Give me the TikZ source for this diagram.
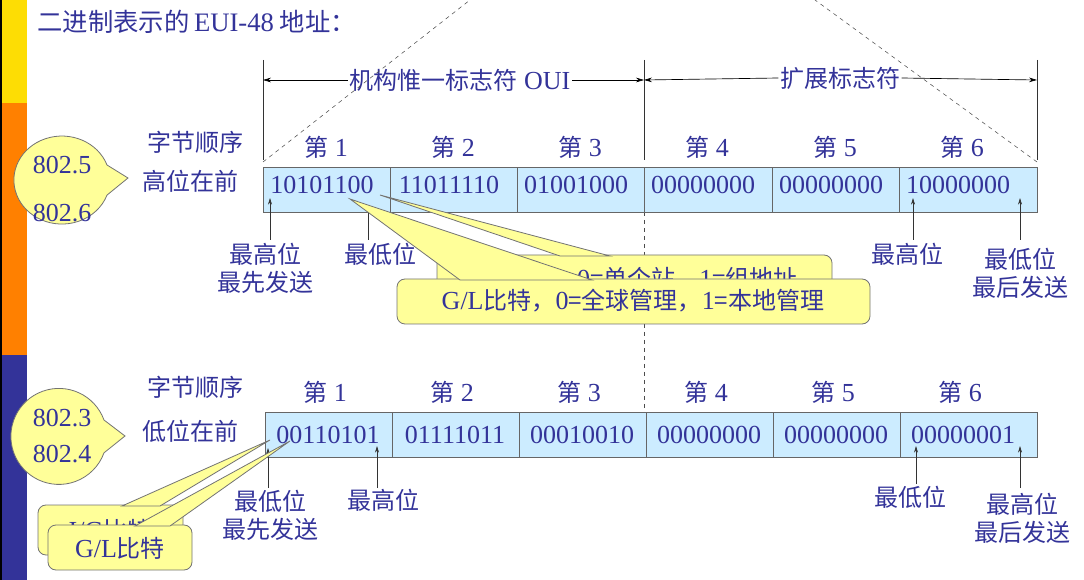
\documentclass[tikz,border=0pt]{standalone}
\usepackage{fontspec}
\setmainfont{Liberation Serif}
\newfontfamily\cjk{Noto Sans CJK SC}
\usetikzlibrary{arrows.meta}
\definecolor{tx}{RGB}{51,51,153}
\definecolor{cell}{RGB}{204,236,255}
\definecolor{cy}{RGB}{255,255,153}
\begin{document}
\begin{tikzpicture}[x=0.75pt,y=-0.75pt,
  every node/.style={text=tx,font=\fontsize{19.5}{22}\selectfont,inner sep=1pt},
  cellbox/.style={draw=black!60,fill=cell,minimum height=33.75pt,anchor=north west,inner sep=0pt},
  callout/.style={draw=black!55,fill=cy,line width=0.6pt},
  lbl/.style={align=center,font=\cjk\fontsize{18}{21}\selectfont},
  arr/.style={-{Stealth[length=5pt,width=3pt]},black!80,line width=0.5pt},
  dim/.style={{Stealth[length=6pt,width=3.5pt]}-,black,line width=0.5pt}]
\useasboundingbox (0,0) rectangle (1084,580);
% left bar
\fill[yellow!80!orange] (0,0) rectangle (27,103);
\fill[orange] (0,103) rectangle (27,355);
\fill[tx] (0,355) rectangle (27,580);
\draw[black,line width=1pt] (1,0) -- (1,580);
\node[anchor=west,font=\cjk\fontsize{19}{22}\selectfont] (title) at (36,22) {二进制表示的{\rmfamily\fontsize{20}{22}\selectfont\,EUI-48} 地址：};
% top bracket
\draw[black!80] (263,60) -- (263,160);
\draw[black!80] (644,60) -- (644,160);
\draw[black!80] (1037,60) -- (1037,160);
\node (oui) at (460,80) {{\cjk\fontsize{18}{21}\selectfont 机构惟一标志符} OUI};
\node[lbl] (ext) at (840,78) {扩展标志符};
\coordinate (a1) at (263,80); \coordinate (a2) at (644,80); \coordinate (a3) at (1037,80);
\draw[dim] (a1) -- (oui.west);
\draw[dim] (a2) -- (oui.east);
\draw[dim] (a2) -- (ext.west);
\draw[dim] (a3) -- (ext.east);
\draw[dashed,black!70] (263,162) -- (470,0);
\draw[dashed,black!70] (1037,162) -- (815,0);
\draw[dashed,black!70] (644,212) -- (644,412);
% top cells
\foreach \x/\w/\t [count=\i] in {263/127/10101100,390/127/11011110,517/127/01001000,644/128/00000000,772/127/00000000,899/138/10000000}{
  \node[cellbox,minimum width=\w*0.75pt] (t\i) at (\x,167) {};
  \node (tb\i) at (\x+59,185) {\t};
  \node (th\i) at (\x+63,147) {{\cjk\fontsize{18}{21}\selectfont 第} \i};
}
% lower cells
\foreach \x/\w/\t [count=\i] in {265/127/00110101,392/127/01111011,519/127/00010010,646/127/00000000,773/127/00000000,900/137/00000001}{
  \node[cellbox,minimum width=\w*0.75pt] (b\i) at (\x,412) {};
  \node (bb\i) at (\x+63,435) {\t};
  \node (bh\i) at (\x+60,392) {{\cjk\fontsize{18}{21}\selectfont 第} \i};
}
\node[lbl] (z1) at (195,142) {字节顺序};
\node[lbl] (g1) at (190,181) {高位在前};
\node[lbl] (z2) at (195,387) {字节顺序};
\node[lbl] (g2) at (190,431) {低位在前};
% balloons
\draw[callout] (128,178) -- (107,165) arc[start angle=-20,end angle=-340,x radius=48,y radius=44] -- cycle;
\node (n1) at (62,165) {802.5};
\node (n2) at (62,213) {802.6};
\draw[callout] (125,436) -- (104,420) arc[start angle=-20,end angle=-340,x radius=48,y radius=48] -- cycle;
\node (n3) at (62,418) {802.3};
\node (n4) at (62,454) {802.4};
% top labels
\node[lbl] (l1) at (265,268) {最高位\\最先发送};
\node[lbl] (l2) at (380,254) {最低位};
\node[lbl] (l3) at (907,254) {最高位};
\node[lbl] (l4) at (1020,273) {最低位\\最后发送};
\draw[arr] (270,240) -- (270,198);
\draw[black!80] (368,240) -- (368,212);
\draw[arr] (913,240) -- (913,198);
\draw[arr] (1020,240) -- (1020,198);
% lower labels
\node[lbl] (m1) at (270,515) {最低位\\最先发送};
\node[lbl] (m2) at (383,500) {最高位};
\node[lbl] (m3) at (910,497) {最低位};
\node[lbl] (m4) at (1022,518) {最高位\\最后发送};
\draw[arr] (268,488) -- (268,448);
\draw[arr] (377,488) -- (377,446);
\draw[arr] (916,484) -- (916,446);
\draw[arr] (1020,488) -- (1020,446);
% top callouts
\draw[callout,rounded corners=6pt] (437,255) rectangle (832,302);
\node[lbl] (ig1) at (634,279) {{\rmfamily\fontsize{19.5}{22}\selectfont I/G}比特，{\rmfamily\fontsize{19.5}{22}\selectfont 0}=单个站，{\rmfamily\fontsize{19.5}{22}\selectfont 1}=组地址};
\draw[callout] (380,195) -- (560,256) -- (610,256) -- cycle;
\draw[callout,rounded corners=6pt] (397,279) rectangle (870,324);
\node[lbl] (gl1) at (633,301) {{\rmfamily\fontsize{19.5}{22}\selectfont G/L}比特，{\rmfamily\fontsize{19.5}{22}\selectfont 0}=全球管理，{\rmfamily\fontsize{19.5}{22}\selectfont 1}=本地管理};
\draw[callout] (350,199) -- (460,280) -- (592,280) -- cycle;
% lower callouts
\draw[callout,rounded corners=6pt] (38,505) rectangle (183,555);
\node[lbl] (ig2) at (110,530) {{\rmfamily\fontsize{19.5}{22}\selectfont I/G}比特};
\draw[callout] (270,440) -- (122,506) -- (160,506) -- cycle;
\draw[callout,rounded corners=6pt] (48,525) rectangle (192,570);
\node[lbl] (gl2) at (120,548) {{\rmfamily\fontsize{19.5}{22}\selectfont G/L}比特};
\draw[callout] (290,441) -- (135,526) -- (170,526) -- cycle;
\end{tikzpicture}
\end{document}
